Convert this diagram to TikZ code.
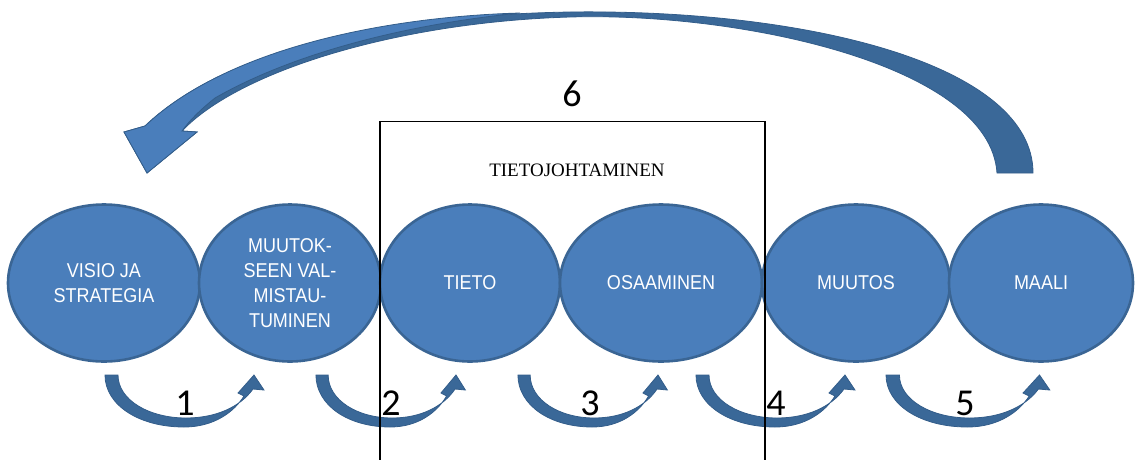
\documentclass[tikz,border=0pt]{standalone}
\usepackage{fontspec}
\setmainfont{Liberation Serif}
\newfontfamily\ellfont[FakeStretch=0.9]{Liberation Sans}
\newfontfamily\numfont{Carlito}
\usetikzlibrary{shapes.geometric}
\definecolor{ellfill}{HTML}{4A7EBB}
\definecolor{ellline}{HTML}{3A6594}
\definecolor{arrdark}{HTML}{3A6898}
\definecolor{arrline}{HTML}{335D8A}
\definecolor{arrlight}{HTML}{4A7EBB}

% U-shaped step arrow under the stages: #1 = left edge of the tail, #2 = horizontal scale
\newcommand\steparrow[2]{%
  \begin{scope}[shift={(#1,0)}, xscale=#2]
    \filldraw[loopshape]
      (1,375) .. controls (1,405) and (35,427) .. (80,427)
              .. controls (110,427) and (130,412) .. (140,396)
      -- (134,393) -- (150,375) -- (160,390) -- (149,389)
      .. controls (136,407) and (112,418) .. (82,418)
      .. controls (45,418) and (14,400) .. (14,375) -- cycle;
  \end{scope}}

\begin{document}
\begin{tikzpicture}[x=1pt,y=-1pt,
  stage/.style={ellipse, fill=ellfill, draw=ellline, line width=2.6pt,
    minimum height=157pt, inner sep=0pt, text=white,
    font=\ellfont\fontsize{20}{25}\selectfont, align=center},
  stepnum/.style={font=\numfont\fontsize{38}{38}\selectfont, inner sep=0pt},
  loopshape/.style={fill=arrdark, draw=arrline, line width=0.8pt},
]
\useasboundingbox (0,0) rectangle (1136,459);
\clip (0,0) rectangle (1136,459);

% big return arrow from the goal back to the vision
\filldraw[fill=arrdark, draw=arrline, line width=0.8pt]
  (1033,173) .. controls (1033,65) and (810,9) .. (570,12)
  .. controls (400,15) and (230,45) .. (145,126)
  -- (124,132) -- (147,173) -- (197,132) -- (182,131)
  .. controls (240,70) and (400,22) .. (570,17)
  .. controls (740,12) and (990,65) .. (997,173)
  -- cycle;
% lighter front face of the return arrow
\filldraw[fill=arrlight, draw=arrline, line width=0.8pt]
  (520,13) .. controls (380,17) and (225,50) .. (145,126)
  -- (124,132) -- (147,173) -- (197,132) -- (182,131)
  .. controls (190,120) and (200,110) .. (215,98)
  .. controls (290,55) and (400,25) .. (520,13)
  -- cycle;

% stages
\node[stage, minimum width=192pt] (visio) at (104,283) {VISIO JA\\STRATEGIA};
\node[stage, minimum width=182pt] (valmis) at (290,283) {MUUTOK-\\SEEN VAL-\\MISTAU-\\TUMINEN};
\node[stage, minimum width=180pt] (tieto) at (470,283) {TIETO};
\node[stage, minimum width=202pt] (osaam) at (661,283) {OSAAMINEN};
\node[stage, minimum width=188pt] (muutos) at (856,283) {MUUTOS};
\node[stage, minimum width=184pt] (maali) at (1041,283) {MAALI};

% step arrows between the stages
\steparrow{104}{1.0}
\steparrow{315}{0.94}
\steparrow{517}{0.94}
\steparrow{695}{1.0}
\steparrow{885}{1.03}

% knowledge management frame
\node[draw, line width=1.3pt, minimum width=385pt, minimum height=360pt,
  anchor=north, inner sep=0pt] (tjbox) at (572.5,121) {};
\node[font=\fontsize{19}{19}\selectfont] (tjtitle) at (577,170) {TIETOJOHTAMINEN};

% step numbers
\node[stepnum] (n1) at (185,403) {1};
\node[stepnum] (n2) at (391,403) {2};
\node[stepnum] (n3) at (590,403) {3};
\node[stepnum] (n4) at (776,403) {4};
\node[stepnum] (n5) at (965,403) {5};
\node[stepnum] (n6) at (572,94) {6};
\end{tikzpicture}
\end{document}
